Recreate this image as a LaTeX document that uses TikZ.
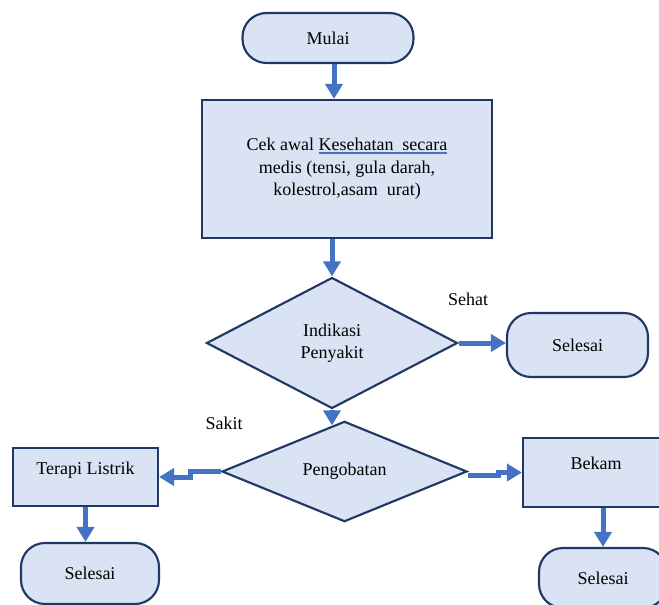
\documentclass[tikz,border=0pt]{standalone}
\usepackage{fontspec}
\setmainfont{Liberation Serif}
\usetikzlibrary{arrows.meta,shapes.geometric,calc}
\definecolor{boxfill}{HTML}{DAE3F3}
\definecolor{boxline}{HTML}{203864}
\definecolor{arrowblue}{HTML}{4472C4}
\newcommand{\shiftup}[2]{\raisebox{0pt}[\height][\dimexpr\depth+#1\relax]{#2}}
\newcommand{\blueul}[1]{\setbox0\hbox{#1}\rlap{\textcolor{arrowblue}{\rule[-2.4pt]{\wd0}{1.3pt}}}\box0}
\tikzset{
  every node/.style={font=\fontsize{13.5pt}{16.9pt}\selectfont},
  procbox/.style={draw=boxline, fill=boxfill, line width=1.6pt, rectangle, inner sep=0pt, align=center},
  termbox/.style={procbox, rounded corners=18pt},
  decbox/.style={draw=boxline, fill=boxfill, line width=1.6pt, diamond, inner sep=0pt, align=center},
  flow/.style={draw=arrowblue, line width=3.75pt, -{Triangle[width=12.75pt,length=11.25pt]}},
  lbl/.style={inner sep=0pt}
}
\begin{document}
\begin{tikzpicture}[x=0.75pt,y=-0.75pt]
\useasboundingbox (0,0) rectangle (659,605);
% nodes
\node[termbox, minimum width=0.75*171pt, minimum height=0.75*50pt] (mulai) at (328,38) {Mulai};
\node[procbox, minimum width=0.75*290pt, minimum height=0.75*138pt] (cek) at (347,169)
  {Cek awal \blueul{Kesehatan~ secara}\\medis (tensi, gula darah,\\kolestrol,asam~ urat)};
\node[decbox, minimum width=0.75*251pt, minimum height=0.75*131pt] (ind) at (332,343) {Indikasi\\Penyakit};
\node[termbox, minimum width=0.75*141pt, minimum height=0.75*64pt] (sel1) at (577.5,345) {Selesai};
\node[decbox, minimum width=0.75*245pt, minimum height=0.75*95pt] (obat) at (344.5,471.5) {Pengobatan};
\node[procbox, minimum width=0.75*145pt, minimum height=0.75*58pt] (terapi) at (85.5,477) {\shiftup{10.5pt}{Terapi Listrik}};
\node[procbox, minimum width=0.75*146pt, minimum height=0.75*69pt] (bekam) at (596,472.5) {\shiftup{14pt}{Bekam}};
\node[termbox, minimum width=0.75*138pt, minimum height=0.75*61pt] (sel2) at (90,573.5) {Selesai};
\node[termbox, minimum width=0.75*128pt, minimum height=0.75*60pt] (sel3) at (603,578) {Selesai};
\node[lbl] (sehat) at (468,299) {Sehat};
\node[lbl] (sakit) at (224,423) {Sakit};
% connectors
\coordinate (a1) at (334,0);
\draw[flow] (mulai.south -| a1) -- (cek.north -| a1);
\draw[flow] (cek.south -| ind.north) -- (ind.north);
\draw[flow] (ind.east) -- (ind.east -| sel1.west);
\coordinate (e4) at ($(obat.north)!0.1!(obat.west)$);
\draw[flow] (ind.south) -- (ind.south |- e4);
\draw[flow] (obat.west) -- ++(-30,0) |- (terapi.east);
\draw[flow] ([yshift=-3pt]obat.east) -- ++(30,0) |- (bekam.west);
\draw[flow] (terapi.south) -- (terapi.south |- sel2.north);
\draw[flow] (bekam.south -| sel3.north) -- (sel3.north);
\end{tikzpicture}
\end{document}
